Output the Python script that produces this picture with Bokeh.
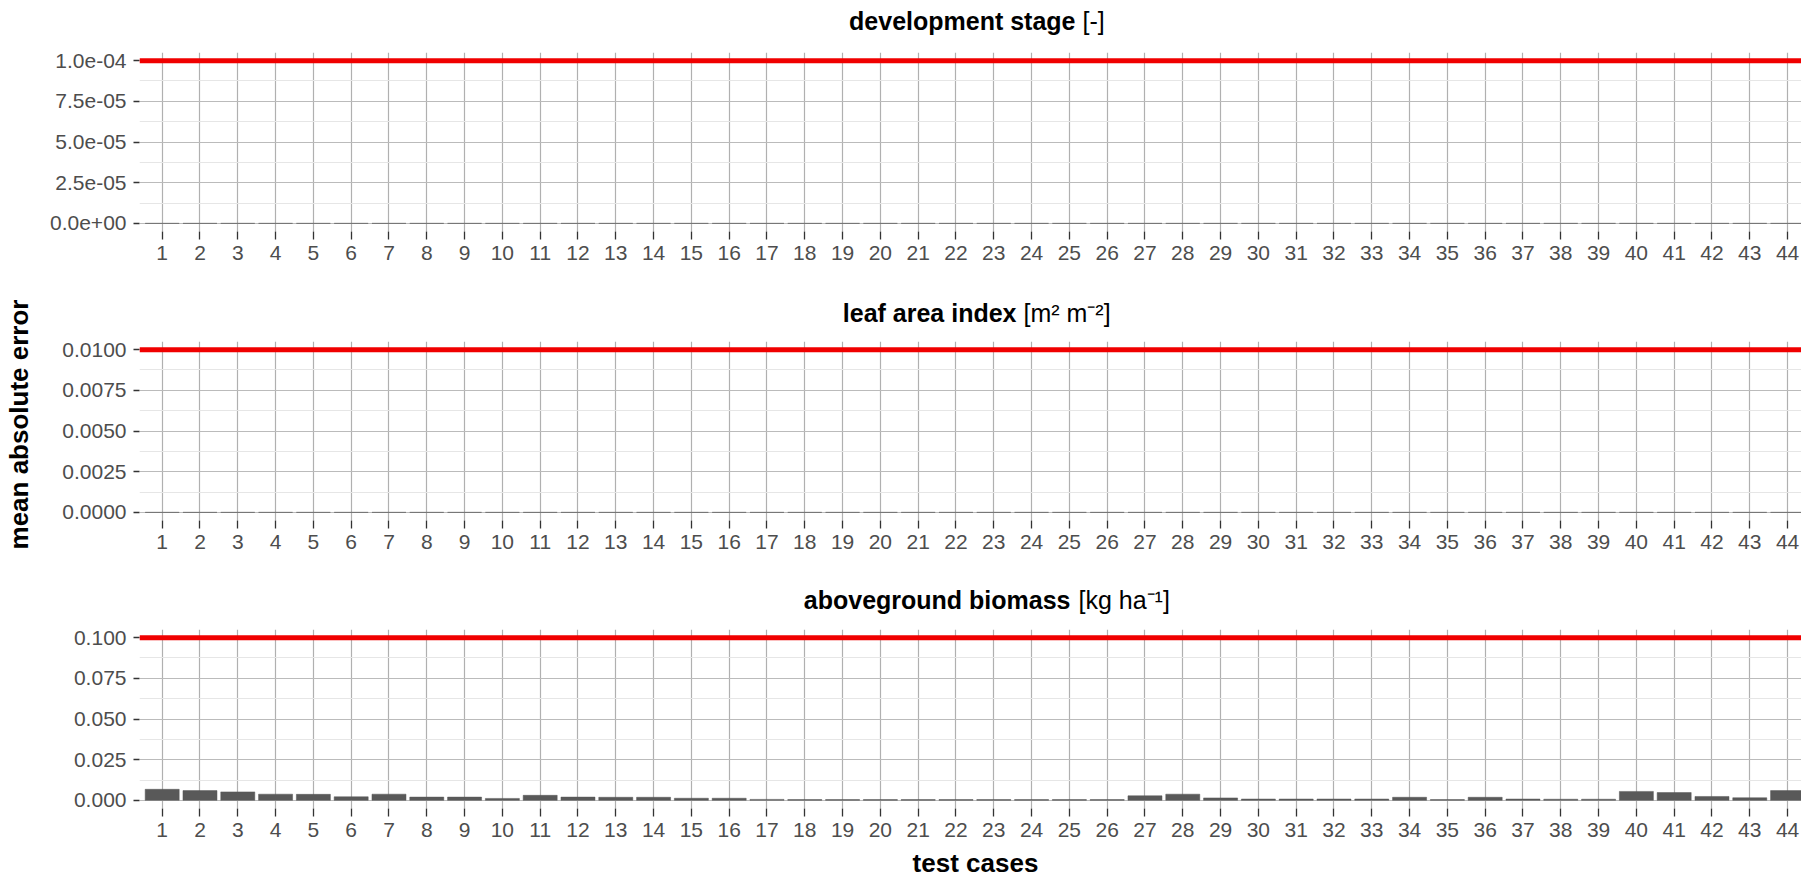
import numpy as np
from bokeh.plotting import figure
from bokeh.layouts import column, row
from bokeh.models import Range1d, FixedTicker, CustomJSTickFormatter, Span
from bokeh.core.properties import value
from bokeh.embed import file_html
from bokeh.resources import INLINE

# ---------------- data ----------------
cases = [1, 2, 3, 4, 5, 6, 7, 8, 9, 10, 11, 12, 13, 14, 15, 16, 17, 18, 19, 20, 21, 22,
         23, 24, 25, 26, 27, 28, 29, 30, 31, 32, 33, 34, 35, 36, 37, 38, 39, 40, 41, 42, 43, 44]

dvs_mae = [0, 0, 0, 0, 0, 0, 0, 0, 0, 0, 0, 0, 0, 0, 0, 0, 0, 0, 0, 0, 0, 0,
           0, 0, 0, 0, 0, 0, 0, 0, 0, 0, 0, 0, 0, 0, 0, 0, 0, 0, 0, 0, 0, 0]
lai_mae = [0, 0, 0, 0, 0, 0, 0, 0, 0, 0, 0, 0, 0, 0, 0, 0, 0, 0, 0, 0, 0, 0,
           0, 0, 0, 0, 0, 0, 0, 0, 0, 0, 0, 0, 0, 0, 0, 0, 0, 0, 0, 0, 0, 0]
tagp_mae = [0.0068, 0.0060, 0.0052, 0.0038, 0.0037, 0.0022, 0.0038, 0.0020, 0.0020, 0.0012,
            0.0031, 0.0020, 0.0019, 0.0019, 0.0013, 0.0013, 0.0006, 0.0005, 0.0005, 0.0005,
            0.0005, 0.0005, 0.0005, 0.0005, 0.0005, 0.0005, 0.0028, 0.0038, 0.0015, 0.0008,
            0.0008, 0.0008, 0.0008, 0.0019, 0.0005, 0.0019, 0.0008, 0.0007, 0.0007, 0.0055,
            0.0048, 0.0024, 0.0016, 0.0060]

thresholds = [1e-4, 0.01, 0.1]

dvs_ticks = [0.0, 2.5e-5, 5.0e-5, 7.5e-5, 1.0e-4]
dvs_minor = [1.25e-5, 3.75e-5, 6.25e-5, 8.75e-5]
dvs_labels = ["0.0e+00", "2.5e-05", "5.0e-05", "7.5e-05", "1.0e-04"]

lai_ticks = [0.0, 0.0025, 0.005, 0.0075, 0.01]
lai_minor = [0.00125, 0.00375, 0.00625, 0.00875]
lai_labels = ["0.0000", "0.0025", "0.0050", "0.0075", "0.0100"]

tagp_ticks = [0.0, 0.025, 0.05, 0.075, 0.1]
tagp_minor = [0.0125, 0.0375, 0.0625, 0.0875]
tagp_labels = ["0.000", "0.025", "0.050", "0.075", "0.100"]

title_bold = ["development stage", "leaf area index", "aboveground biomass"]
title_unit = ["[-]", "[m\u00b2 m\u207b\u00b2]", "[kg ha\u207b\u00b9]"]
y_title = "mean absolute error"
x_title = "test cases"

# ---------------- layout constants (page pixels) ----------------
FONT = "Liberation Sans"
PAGE_W, PAGE_H = 1801, 876
YT_W = 40                   # strip holding the y-axis title
COL_W = PAGE_W - YT_W
FRAME_L_PX = 139            # page x of panel left edge
CAT_PX = 37.8               # px per category
X0 = 0.4
X1 = X0 + (PAGE_W - FRAME_L_PX) / CAT_PX
FRAME_H = 179
PANEL_TOP_B = 10
# vertical bands: (top, bottom) page px
title_bands = [(0, 42), (289, 331), (577, 619)]
panel_bands = [(42, 289), (331, 577), (619, 846)]
xt_band = (846, 876)
title_center_y = [20, 312, 599]
title_split_px = [(1075, 1082), (1016, 1023), (1070, 1078)]


def strip(band):
    top, bot = band
    s = figure(width=COL_W, height=bot - top,
               x_range=Range1d(FRAME_L_PX, PAGE_W), y_range=Range1d(bot, top),
               output_backend="svg", toolbar_location=None,
               min_border_left=FRAME_L_PX - YT_W, min_border_right=0,
               min_border_top=0, min_border_bottom=0)
    s.axis.visible = False
    s.grid.visible = False
    s.outline_line_color = None
    s.background_fill_color = "white"
    s.border_fill_color = "white"
    return s


def make_title(i):
    s = strip(title_bands[i])
    bx, ux = title_split_px[i]
    cy = title_center_y[i]
    s.text(x=[bx], y=[cy], text=[title_bold[i]], text_align="right",
           text_baseline="middle", text_font=value(FONT), text_font_size="25px",
           text_font_style="bold", text_color="black")
    s.text(x=[ux], y=[cy], text=[title_unit[i]], text_align="left",
           text_baseline="middle", text_font=value(FONT), text_font_size="25px",
           text_color="black")
    return s


def make_panel(i, values, ticks, minors, labels):
    thr = thresholds[i]
    lo, hi = -0.05 * thr, 1.05 * thr
    top, bot = panel_bands[i]
    h = bot - top
    p = figure(width=COL_W, height=h,
               x_range=Range1d(X0, X1), y_range=Range1d(lo, hi),
               output_backend="svg", toolbar_location=None,
               min_border_left=FRAME_L_PX - YT_W, min_border_right=0,
               min_border_top=PANEL_TOP_B, min_border_bottom=h - FRAME_H - PANEL_TOP_B)
    p.outline_line_color = None
    p.background_fill_color = "white"
    p.border_fill_color = "white"

    p.vbar(x=cases, top=values, bottom=0, width=0.9,
           fill_color="#595959", line_color="#595959", line_width=0.5)
    p.add_layout(Span(location=thr, dimension="width",
                      line_color="#F00000", line_width=5))

    p.xaxis.ticker = FixedTicker(ticks=cases)
    p.yaxis.ticker = FixedTicker(ticks=ticks, minor_ticks=minors)
    p.yaxis.formatter = CustomJSTickFormatter(
        args=dict(vals=ticks, labs=labels),
        code="""
        let best = 0;
        for (let k = 0; k < vals.length; k++) {
            if (Math.abs(vals[k] - tick) < Math.abs(vals[best] - tick)) best = k;
        }
        return labs[best];
        """)
    for ax in (p.xaxis[0], p.yaxis[0]):
        ax.axis_line_color = None
        ax.major_tick_in = 0
        ax.major_tick_line_color = "#333333"
        ax.major_tick_line_width = 1.3
        ax.minor_tick_line_color = None
        ax.major_label_text_font = FONT
        ax.major_label_text_font_size = "21px"
        ax.major_label_text_color = "#4D4D4D"
    p.xaxis.major_tick_out = 8
    p.xaxis.major_label_standoff = 6
    p.yaxis.major_tick_out = 6
    p.yaxis.major_label_standoff = 7

    p.xgrid.grid_line_color = "#B0B0B0"
    p.xgrid.grid_line_width = 1.2
    p.ygrid.grid_line_color = "#BBBBBB"
    p.ygrid.grid_line_width = 1.2
    p.ygrid.minor_grid_line_color = "#E6E6E6"
    p.ygrid.minor_grid_line_width = 1.0
    return p


t1, t2, t3 = make_title(0), make_title(1), make_title(2)
p1 = make_panel(0, dvs_mae, dvs_ticks, dvs_minor, dvs_labels)
p2 = make_panel(1, lai_mae, lai_ticks, lai_minor, lai_labels)
p3 = make_panel(2, tagp_mae, tagp_ticks, tagp_minor, tagp_labels)

xt = strip(xt_band)
xt.text(x=[975], y=[862], text=[x_title], text_align="center", text_baseline="middle",
        text_font=value(FONT), text_font_size="26px", text_font_style="bold",
        text_color="black")

yt = figure(width=YT_W, height=PAGE_H, x_range=Range1d(0, YT_W), y_range=Range1d(PAGE_H, 0),
            output_backend="svg", toolbar_location=None,
            min_border=0, min_border_left=0, min_border_right=0,
            min_border_top=0, min_border_bottom=0)
yt.axis.visible = False
yt.grid.visible = False
yt.outline_line_color = None
yt.background_fill_color = "white"
yt.border_fill_color = "white"
yt.text(x=[18], y=[424], text=[y_title], angle=np.pi / 2, text_align="center",
        text_baseline="middle", text_font=value(FONT), text_font_size="26px",
        text_font_style="bold", text_color="black")

layout = row(yt, column(t1, p1, t2, p2, t3, p3, xt, spacing=0), spacing=0)
open("out.html", "w").write(file_html(layout, INLINE))
